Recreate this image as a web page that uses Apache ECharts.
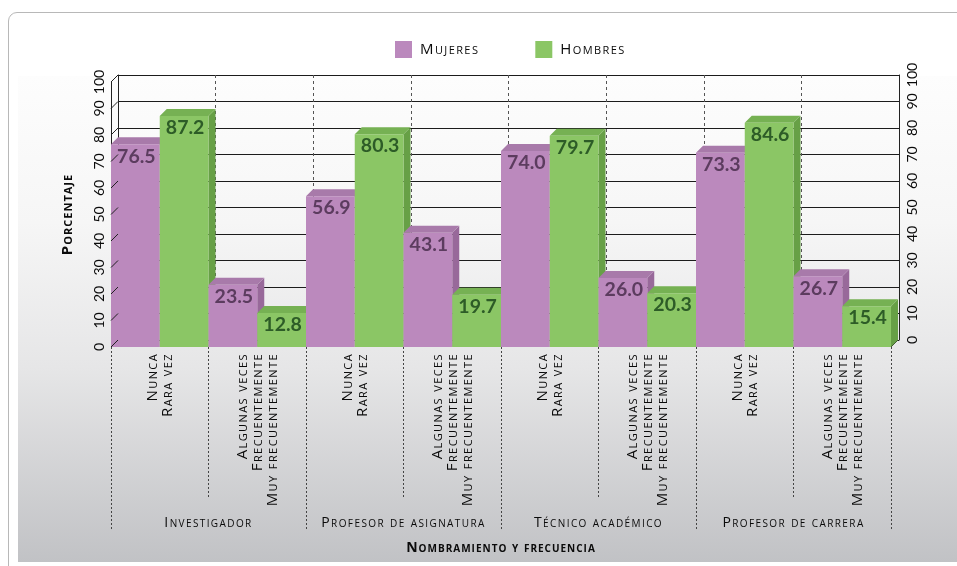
<!DOCTYPE html>
<html>
<head>
<meta charset="utf-8">
<script src="https://cdn.jsdelivr.net/npm/echarts@6/dist/echarts.min.js"></script>
<style>
  html, body { margin: 0; padding: 0; background: #ffffff; overflow: hidden; }
  #frame { position: absolute; left: 8px; top: 12px; width: 1000px; height: 600px;
           border: 1px solid #b8b8b8; border-radius: 9px; }
  #shade { position: absolute; left: 18px; top: 76px; width: 950px; height: 486px;
           background: linear-gradient(to bottom, #fdfdfd 0%, #f6f6f6 30%, #e6e6e7 60%, #c1c2c5 100%); }
  #chart { position: absolute; left: 0; top: 0; width: 957px; height: 566px; }
</style>
</head>
<body>
<div id="frame"></div>
<div id="shade"></div>
<div id="chart"></div>
<script>
// Sub-categories (frequency) for each appointment type
const subCategories = [
  'Nunca\nRara vez', 'Algunas veces\nFrecuentemente\nMuy frecuentemente',
  'Nunca\nRara vez', 'Algunas veces\nFrecuentemente\nMuy frecuentemente',
  'Nunca\nRara vez', 'Algunas veces\nFrecuentemente\nMuy frecuentemente',
  'Nunca\nRara vez', 'Algunas veces\nFrecuentemente\nMuy frecuentemente'
];
const groups = ['Investigador', 'Profesor de asignatura', 'Técnico académico', 'Profesor de carrera'];
const mujeres = [76.5, 23.5, 56.9, 43.1, 74.0, 26.0, 73.3, 26.7];
const hombres = [87.2, 12.8, 80.3, 19.7, 79.7, 20.3, 84.6, 15.4];
const yTicks = [0, 10, 20, 30, 40, 50, 60, 70, 80, 90, 100];

// Small-caps texts are set with a little tracking: whenever a canvas font
// containing "small-caps" is applied, widen the letter spacing as well
// (measurement contexts get the same treatment, so alignment stays right).
(function () {
  const proto = CanvasRenderingContext2D.prototype;
  const desc = Object.getOwnPropertyDescriptor(proto, 'font');
  if (!desc || !('letterSpacing' in proto)) return;
  Object.defineProperty(proto, 'font', {
    configurable: true,
    get: function () { return desc.get.call(this); },
    set: function (v) {
      desc.set.call(this, v);
      const s = String(v);
      this.letterSpacing = s.indexOf('small-caps') >= 0
        ? (s.indexOf('bold') >= 0 ? '1px' : '1.4px') : '0px';
    }
  });
})();

// depth offset of the pseudo-3D box (px)
const DX = 7, DY = 7;
const FONT = 'Open Sans';
const NUM_FONT = 'Lato';
const INK = '#0a0a0a';

const palette = {
  mujeres: { front: '#bb89bd', top: '#a87aaa', side: '#98699a', label: '#5c3c5f' },
  hombres: { front: '#8bc665', top: '#76b153', side: '#67a046', label: '#2d5c27' }
};

function bar3d(slot, faces) {
  return function (params, api) {
    const i = api.value(0);
    const v = api.value(1);
    const band = api.size([1, 0])[0];
    const half = band / 2;
    const base = api.coord([i, 0]);
    const top = api.coord([i, v]);
    const x0 = base[0] - band / 2 + slot * half;
    const x1 = x0 + half;
    const yb = base[1], yt = top[1];
    const z2 = i * 2 + slot;   // bars further right are drawn over earlier ones
    return {
      type: 'group',
      children: [
        { type: 'polygon', z2: z2,
          shape: { points: [[x1, yt], [x1 + DX, yt - DY], [x1 + DX, yb - DY], [x1, yb]] },
          style: { fill: faces.side } },
        { type: 'polygon', z2: z2,
          shape: { points: [[x0, yt], [x0 + DX, yt - DY], [x1 + DX, yt - DY], [x1, yt]] },
          style: { fill: faces.top } },
        { type: 'rect', z2: z2,
          shape: { x: x0, y: yt, width: half, height: yb - yt },
          style: { fill: faces.front } },
        { type: 'text', z2: z2, x: (x0 + x1) / 2 + 1, y: yt + 2,
          style: { text: v.toFixed(1), fill: faces.label, align: 'center', verticalAlign: 'top',
                   font: 'bold 19.5px ' + NUM_FONT } }
      ]
    };
  };
}

// slanted ticks joining the front axis to the back wall
function depthTicks(params, api) {
  const p = api.coord([0, api.value(0)]);
  const x = params.coordSys.x;
  const children = [
    { type: 'line', shape: { x1: x, y1: p[1], x2: x + DX, y2: p[1] - DY },
      style: { stroke: '#222', lineWidth: 1 } }
  ];
  if (api.value(0) === 0) {
    const xr = params.coordSys.x + params.coordSys.width;
    children.push({ type: 'line', shape: { x1: xr, y1: p[1], x2: xr + DX, y2: p[1] - DY },
      style: { stroke: '#222', lineWidth: 1 } });
  }
  return { type: 'group', children: children };
}

const chart = echarts.init(document.getElementById('chart'), null, { renderer: 'canvas' });

const capsText = { fontFamily: FONT, fontStyle: 'small-caps', color: INK };

chart.setOption({
  backgroundColor: 'transparent',
  animation: false,
  textStyle: { fontFamily: FONT, color: INK },
  legend: {
    left: 395, top: 41, padding: 0,
    itemWidth: 17, itemHeight: 17, itemGap: 56,
    icon: 'rect',
    data: ['Mujeres', 'Hombres'],
    textStyle: Object.assign({ fontSize: 15, padding: [0, 0, 0, 3] }, capsText)
  },
  grid: [
    { left: 111, right: 66, top: 82, bottom: 219 },   // front plane
    { left: 118, right: 58, top: 75, bottom: 226 }    // back wall
  ],
  xAxis: [
    {
      type: 'category', gridIndex: 0, data: subCategories, position: 'bottom',
      axisLine: { show: false, onZero: false },
      axisTick: { show: true, interval: 0, length: 152, lineStyle: { color: '#444', type: [2, 2], width: 1 } },
      axisLabel: Object.assign({ interval: 0, rotate: 90, margin: 6, fontSize: 15, lineHeight: 15 }, capsText),
      splitLine: { show: false }
    },
    {
      type: 'category', gridIndex: 0, data: groups, position: 'bottom',
      axisLine: { show: false, onZero: false },
      axisTick: { show: true, interval: 0, length: 183, lineStyle: { color: '#444', type: [2, 2], width: 1 } },
      axisLabel: Object.assign({ interval: 0, margin: 168, fontSize: 14 }, capsText),
      name: 'Nombramiento y frecuencia', nameLocation: 'middle', nameGap: 194,
      nameTextStyle: Object.assign({ fontSize: 14, fontWeight: 'bold' }, capsText)
    },
    {
      type: 'category', gridIndex: 1, data: subCategories,
      axisLine: { show: false }, axisTick: { show: false }, axisLabel: { show: false },
      splitLine: { show: true, interval: 0, showMinLine: false, showMaxLine: false,
                   lineStyle: { color: '#555', type: [3, 3], width: 1 } }
    }
  ],
  yAxis: [
    {
      type: 'value', gridIndex: 0, min: 0, max: 100, interval: 10, position: 'left',
      axisLine: { show: true, lineStyle: { color: '#222', width: 1 } },
      axisTick: { show: false }, splitLine: { show: false },
      axisLabel: { rotate: 90, margin: 5, fontSize: 14, color: INK, fontFamily: NUM_FONT },
      name: 'Porcentaje', nameLocation: 'middle', nameGap: 35,
      nameTextStyle: Object.assign({ fontSize: 15, fontWeight: 'bold' }, capsText)
    },
    {
      type: 'value', gridIndex: 1, min: 0, max: 100, interval: 10, position: 'left',
      axisLine: { show: true, lineStyle: { color: '#222', width: 1 } },
      axisTick: { show: false }, axisLabel: { show: false },
      splitLine: { show: true, lineStyle: { color: '#1c1c1c', width: 1.2 } }
    },
    {
      type: 'value', gridIndex: 1, min: 0, max: 100, interval: 10, position: 'right',
      axisLine: { show: true, lineStyle: { color: '#222', width: 1 } },
      axisTick: { show: false }, splitLine: { show: false },
      axisLabel: { rotate: 90, margin: 6, fontSize: 14, color: INK, fontFamily: NUM_FONT }
    }
  ],
  series: [
    {
      name: 'Mujeres', type: 'custom', xAxisIndex: 0, yAxisIndex: 0, clip: false,
      itemStyle: { color: palette.mujeres.front },
      renderItem: bar3d(0, palette.mujeres),
      encode: { x: 0, y: 1 },
      data: mujeres.map((v, i) => [i, v])
    },
    {
      name: 'Hombres', type: 'custom', xAxisIndex: 0, yAxisIndex: 0, clip: false,
      itemStyle: { color: palette.hombres.front },
      renderItem: bar3d(1, palette.hombres),
      encode: { x: 0, y: 1 },
      data: hombres.map((v, i) => [i, v])
    },
    {
      name: 'ticks', type: 'custom', xAxisIndex: 0, yAxisIndex: 0, clip: false, silent: true,
      renderItem: depthTicks,
      encode: { y: 0 },
      data: yTicks.map(v => [v])
    }
  ]
});
</script>
</body>
</html>
